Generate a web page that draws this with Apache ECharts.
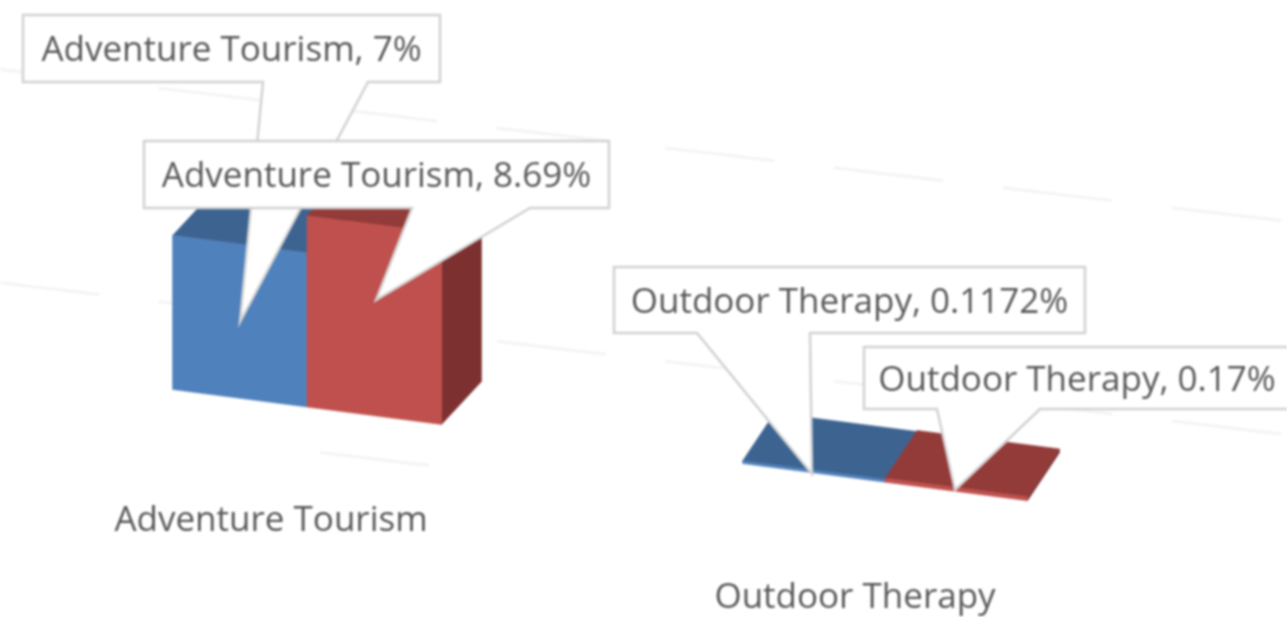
<!DOCTYPE html>
<html>
<head>
<meta charset="utf-8">
<title>Adventure Tourism vs Outdoor Therapy</title>
<script src="https://cdn.jsdelivr.net/npm/echarts@6/dist/echarts.min.js"></script>
<style>
    html, body { margin: 0; padding: 0; background: #fff; overflow: hidden; }
    #main { width: 1287px; height: 617px; filter: blur(1.3px); }
</style>
</head>
<body>
<div id="main"></div>
<script>
// chart data
var categories = ['Adventure Tourism', 'Outdoor Therapy'];
var blueValues = [7, 0.1172];
var redValues = [8.69, 0.17];
var gridValues = [-2, 4, 13.7];

// 3d look: the axis runs downhill and each category has its own depth
var skew = 0.13;
var gridSkew = 0.118;
var gridExtent = [[320, 440], [-10, 1287], [-10, 1287]];
var barLook = [
    {width: 134.5, dx: 40, dy: -43},
    {width: 142.5, dx: 32, dy: -48}
];
var blueColors = {front: '#4f81bd', top: '#3d6491', side: '#325276'};
var redColors = {front: '#c0504d', top: '#933b39', side: '#7d3030'};

// callout boxes: [left, top, right, bottom], wedge base on bottom edge, tip
var blueCallouts = [
    {box: [23, 15, 440, 82], base: [263, 368], tip: [240, 322]},
    {box: [614, 267, 1085, 333], base: [697, 810], tip: [812, 474]}
];
var redCallouts = [
    {box: [144, 141, 609, 208], base: [412, 530], tip: [376, 300]},
    {box: [864, 347, 1290, 409], base: [937, 1040], tip: [955, 490]}
];
var labelOffset = [[-36, 114], [-30, 116]];

var FONT = '"Open Sans", sans-serif';

function skewY(api, x, y) {
    return y + skew * (x - api.coord([0, 0])[0]);
}

function face(points, color) {
    return {
        type: 'polygon',
        shape: {points: points},
        style: {fill: color, stroke: color, lineWidth: 0.5}
    };
}

// one bar of a pair, side < 0 is left of the category centre
function renderBar(side, colors) {
    return function (params, api) {
        var cat = api.value(0);
        var look = barLook[cat];
        var base = api.coord([cat, 0]);
        var top = api.coord([cat, api.value(1)]);
        var x1 = side < 0 ? base[0] - look.width : base[0];
        var x2 = x1 + look.width;
        var h = base[1] - top[1];
        var y1 = skewY(api, x1, base[1]);
        var y2 = skewY(api, x2, base[1]);
        return {
            type: 'group',
            children: [
                face([[x2, y2], [x2 + look.dx, y2 + look.dy], [x2 + look.dx, y2 + look.dy - h], [x2, y2 - h]], colors.side),
                face([[x1, y1 - h], [x2, y2 - h], [x2 + look.dx, y2 + look.dy - h], [x1 + look.dx, y1 + look.dy - h]], colors.top),
                face([[x1, y1], [x2, y2], [x2, y2 - h], [x1, y1 - h]], colors.front)
            ]
        };
    };
}

function renderCallout(layouts, values) {
    return function (params, api) {
        var cat = api.value(0);
        var c = layouts[cat];
        var b = c.box;
        return {
            type: 'group',
            children: [
                {
                    type: 'polygon',
                    shape: {points: [
                        [b[0], b[1]], [b[2], b[1]], [b[2], b[3]], [c.base[1], b[3]],
                        c.tip, [c.base[0], b[3]], [b[0], b[3]]
                    ]},
                    style: {fill: '#fff', stroke: '#d2d2d2', lineWidth: 2.5}
                },
                {
                    type: 'text',
                    style: {
                        x: (b[0] + b[2]) / 2,
                        y: (b[1] + b[3]) / 2 + 3,
                        text: categories[cat] + ', ' + values[cat] + '%',
                        align: 'center',
                        verticalAlign: 'middle',
                        fill: '#595959',
                        font: '35px ' + FONT
                    }
                }
            ]
        };
    };
}

function renderGridLine(params, api) {
    var y = api.coord([0, api.value(0)])[1];
    var x0 = api.coord([0, 0])[0];
    var ext = gridExtent[params.dataIndex];
    return {
        type: 'line',
        shape: {
            x1: ext[0],
            y1: y + gridSkew * (ext[0] - x0),
            x2: ext[1],
            y2: y + gridSkew * (ext[1] - x0)
        },
        style: {stroke: '#f4f4f4', lineWidth: 3, lineDash: [110, 60]}
    };
}

function renderCategory(params, api) {
    var cat = api.value(0);
    var base = api.coord([cat, 0]);
    return {
        type: 'text',
        style: {
            x: base[0] + labelOffset[cat][0],
            y: skewY(api, base[0], base[1]) + labelOffset[cat][1],
            text: categories[cat],
            align: 'center',
            verticalAlign: 'middle',
            fill: '#595959',
            font: '35px ' + FONT
        }
    };
}

function pairs(values) {
    return values.map(function (v, i) {
        return [i, v];
    });
}

var chart = echarts.init(document.getElementById('main'));
var option = {
    animation: false,
    backgroundColor: '#fff',
    grid: {left: 18, width: 1156, top: 11, height: 484},
    xAxis: {type: 'category', data: categories, show: false},
    yAxis: {type: 'value', min: -4, max: 18, show: false, splitLine: {show: false}},
    series: [
        {type: 'custom', name: 'grid', renderItem: renderGridLine, data: gridValues.map(function (v) { return [v]; }), encode: {y: 0}, clip: false, silent: true},
        {type: 'custom', name: 'Series 1', renderItem: renderBar(-1, blueColors), data: pairs(blueValues), encode: {x: 0, y: 1}, clip: false},
        {type: 'custom', name: 'Series 2', renderItem: renderBar(1, redColors), data: pairs(redValues), encode: {x: 0, y: 1}, clip: false},
        {type: 'custom', name: 'Labels', renderItem: renderCategory, data: pairs([0, 0]), encode: {x: 0}, clip: false, silent: true},
        {type: 'custom', name: 'Callouts 1', renderItem: renderCallout(blueCallouts, blueValues), data: pairs(blueValues), encode: {x: 0, y: 1}, clip: false, z: 5},
        {type: 'custom', name: 'Callouts 2', renderItem: renderCallout(redCallouts, redValues), data: pairs(redValues), encode: {x: 0, y: 1}, clip: false, z: 6}
    ]
};
chart.setOption(option);
</script>
</body>
</html>
